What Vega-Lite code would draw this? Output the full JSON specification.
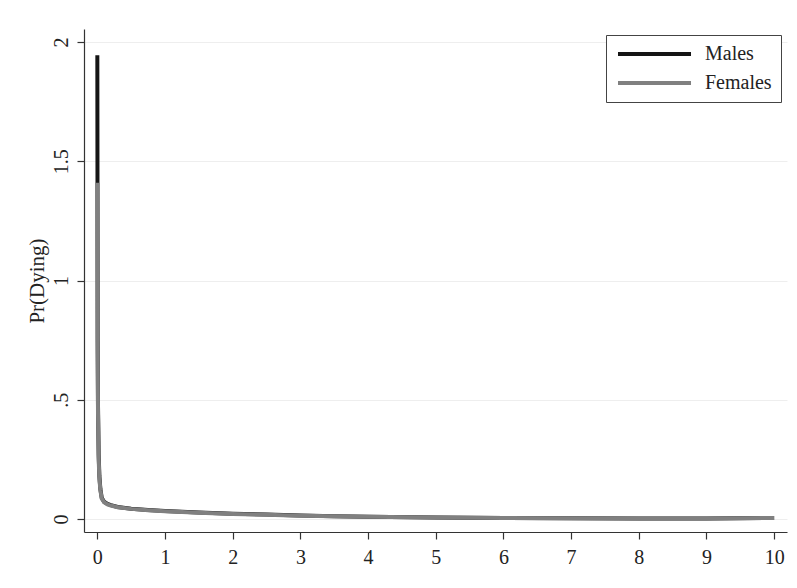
{
  "$schema": "https://vega.github.io/schema/vega-lite/v6.json",
  "width": 703,
  "height": 503,
  "autosize": {"type": "none"},
  "padding": {"left": 84, "top": 29, "right": 10, "bottom": 56},
  "background": "white",
  "config": {
    "view": {"stroke": null},
    "font": "Liberation Serif",
    "axis": {
      "domainColor": "#333333",
      "domainWidth": 1.2,
      "tickColor": "#333333",
      "tickWidth": 1.2,
      "tickSize": 7,
      "labelColor": "#222222",
      "labelFont": "Liberation Serif",
      "labelFontSize": 20,
      "titleFont": "Liberation Serif",
      "titleFontSize": 21,
      "titleFontWeight": "normal",
      "titleColor": "#222222"
    }
  },
  "datasets": {
    "risk": [
      {"age": 0, "sex": "Males", "p": 1.945},
      {"age": 0.005, "sex": "Males", "p": 0.75},
      {"age": 0.01, "sex": "Males", "p": 0.47},
      {"age": 0.02, "sex": "Males", "p": 0.27},
      {"age": 0.03, "sex": "Males", "p": 0.18},
      {"age": 0.045, "sex": "Males", "p": 0.125},
      {"age": 0.065, "sex": "Males", "p": 0.088},
      {"age": 0.1, "sex": "Males", "p": 0.072},
      {"age": 0.15, "sex": "Males", "p": 0.063},
      {"age": 0.2, "sex": "Males", "p": 0.058},
      {"age": 0.3, "sex": "Males", "p": 0.05},
      {"age": 0.5, "sex": "Males", "p": 0.043},
      {"age": 0.75, "sex": "Males", "p": 0.037},
      {"age": 1, "sex": "Males", "p": 0.033},
      {"age": 1.5, "sex": "Males", "p": 0.027},
      {"age": 2, "sex": "Males", "p": 0.022},
      {"age": 2.5, "sex": "Males", "p": 0.018},
      {"age": 3, "sex": "Males", "p": 0.014},
      {"age": 3.5, "sex": "Males", "p": 0.011},
      {"age": 4, "sex": "Males", "p": 0.009},
      {"age": 5, "sex": "Males", "p": 0.006},
      {"age": 6, "sex": "Males", "p": 0.004},
      {"age": 7, "sex": "Males", "p": 0.003},
      {"age": 8, "sex": "Males", "p": 0.002},
      {"age": 9, "sex": "Males", "p": 0.002},
      {"age": 10, "sex": "Males", "p": 0.004},
      {"age": 0, "sex": "Females", "p": 1.41},
      {"age": 0.005, "sex": "Females", "p": 0.7},
      {"age": 0.01, "sex": "Females", "p": 0.44},
      {"age": 0.02, "sex": "Females", "p": 0.25},
      {"age": 0.03, "sex": "Females", "p": 0.17},
      {"age": 0.045, "sex": "Females", "p": 0.12},
      {"age": 0.065, "sex": "Females", "p": 0.085},
      {"age": 0.1, "sex": "Females", "p": 0.07},
      {"age": 0.15, "sex": "Females", "p": 0.061},
      {"age": 0.2, "sex": "Females", "p": 0.056},
      {"age": 0.3, "sex": "Females", "p": 0.049},
      {"age": 0.5, "sex": "Females", "p": 0.042},
      {"age": 0.75, "sex": "Females", "p": 0.036},
      {"age": 1, "sex": "Females", "p": 0.032},
      {"age": 1.5, "sex": "Females", "p": 0.026},
      {"age": 2, "sex": "Females", "p": 0.021},
      {"age": 2.5, "sex": "Females", "p": 0.017},
      {"age": 3, "sex": "Females", "p": 0.013},
      {"age": 3.5, "sex": "Females", "p": 0.011},
      {"age": 4, "sex": "Females", "p": 0.009},
      {"age": 5, "sex": "Females", "p": 0.006},
      {"age": 6, "sex": "Females", "p": 0.004},
      {"age": 7, "sex": "Females", "p": 0.003},
      {"age": 8, "sex": "Females", "p": 0.002},
      {"age": 9, "sex": "Females", "p": 0.002},
      {"age": 10, "sex": "Females", "p": 0.004}
    ]
  },
  "data": {"name": "risk"},
  "encoding": {
    "x": {
      "field": "age",
      "type": "quantitative",
      "scale": {"domain": [-0.197, 10.19], "nice": false, "zero": false},
      "axis": {
        "title": null,
        "values": [0, 1, 2, 3, 4, 5, 6, 7, 8, 9, 10],
        "grid": false,
        "labelPadding": 8
      }
    },
    "y": {
      "field": "p",
      "type": "quantitative",
      "scale": {"domain": [-0.055, 2.055], "nice": false, "zero": false},
      "axis": {
        "title": "Pr(Dying)",
        "values": [0, 0.5, 1, 1.5, 2],
        "labelExpr": "datum.value == 0 ? '0' : datum.value < 1 ? '.5' : format(datum.value, '')",
        "grid": true,
        "gridColor": "#eeeeee",
        "gridWidth": 1,
        "labelAngle": -90,
        "labelAlign": "center",
        "labelBaseline": "bottom",
        "labelPadding": 6,
        "titlePadding": 4
      }
    },
    "color": {
      "field": "sex",
      "type": "nominal",
      "scale": {"domain": ["Males", "Females"], "range": ["#151515", "#808080"]},
      "legend": {
        "title": null,
        "orient": "none",
        "legendX": 522,
        "legendY": 6,
        "direction": "vertical",
        "symbolType": "M-1,0H9.43",
        "symbolSize": 196,
        "symbolStrokeWidth": 4,
        "labelFont": "Liberation Serif",
        "labelFontSize": 20,
        "labelColor": "#222222",
        "labelOffset": 70,
        "rowPadding": 9,
        "padding": 9,
        "strokeColor": "#444444",
        "fillColor": "white"
      }
    }
  },
  "layer": [
    {
      "transform": [{"filter": "datum.sex == 'Males'"}],
      "mark": {"type": "line", "strokeWidth": 4, "strokeCap": "butt"}
    },
    {
      "transform": [{"filter": "datum.sex == 'Females'"}],
      "mark": {"type": "line", "strokeWidth": 4, "strokeCap": "butt"}
    }
  ]
}
